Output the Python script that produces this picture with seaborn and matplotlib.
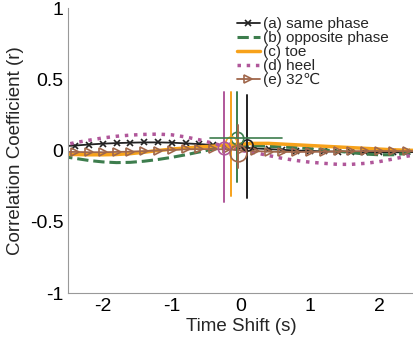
import numpy as np
import pandas as pd
import seaborn as sns
import matplotlib.pyplot as plt

# time shift (s)
lags = [-2.6, -2.4, -2.2, -2.0, -1.8, -1.6, -1.4, -1.2, -1.0, -0.8, -0.6, -0.4, -0.2,
        0.0, 0.2, 0.4, 0.6, 0.8, 1.0, 1.2, 1.4, 1.6, 1.8, 2.0, 2.2, 2.4, 2.6]

same_phase = [0.030, 0.035, 0.042, 0.048, 0.052, 0.055, 0.057, 0.057, 0.055, 0.050, 0.045, 0.038, 0.030,
              0.022, 0.015, 0.010, 0.005, 0.000, -0.003, -0.006, -0.008, -0.010, -0.012, -0.013, -0.013, -0.012, -0.010]
opposite_phase = [-0.040, -0.055, -0.070, -0.080, -0.085, -0.083, -0.075, -0.063, -0.048, -0.030, -0.010, 0.010, 0.025,
                  0.035, 0.035, 0.030, 0.025, 0.020, 0.013, 0.005, -0.005, -0.015, -0.025, -0.030, -0.030, -0.020, -0.010]
toe = [-0.025, -0.028, -0.030, -0.030, -0.028, -0.022, -0.012, 0.000, 0.010, 0.018, 0.025, 0.030, 0.038,
       0.045, 0.050, 0.050, 0.045, 0.040, 0.035, 0.030, 0.025, 0.020, 0.015, 0.010, 0.005, 0.002, 0.000]
heel = [0.035, 0.055, 0.072, 0.088, 0.100, 0.108, 0.113, 0.115, 0.110, 0.095, 0.075, 0.050, 0.025,
        0.000, -0.015, -0.035, -0.055, -0.070, -0.082, -0.090, -0.097, -0.097, -0.090, -0.078, -0.060, -0.040, -0.025]
temp32 = [-0.010, -0.010, -0.012, -0.012, -0.010, -0.008, -0.004, 0.000, 0.004, 0.008, 0.010, 0.010, 0.008,
          0.002, -0.004, -0.008, -0.010, -0.010, -0.010, -0.008, -0.006, -0.005, -0.004, -0.004, -0.004, -0.004, -0.004]

labels = ["(a) same phase", "(b) opposite phase", "(c) toe", "(d) heel", "(e) 32\u2103"]
colors = ["#222222", "#3d7d4d", "#f7a21b", "#b0579a", "#a0674b"]

# peak crosshairs: lag, r, vertical line top / bottom
peak_lag = [0.09, -0.05, -0.14, -0.25, -0.04]
peak_r = [0.04, 0.09, 0.06, 0.02, -0.02]
vline_top = [0.39, 0.41, 0.41, 0.41, 0.18]
vline_bot = [-0.33, -0.22, -0.32, -0.36, -0.12]
circle_size = [8, 9, 8, 9, 12]

xticks = [-2, -1, 0, 1, 2]
yticks = [-1, -0.5, 0, 0.5, 1]
ytick_labels = ["-1", "-0.5", "0", "0.5", "1"]

sns.set_style("white")
plt.rcParams["font.family"] = ["Liberation Sans", "DejaVu Sans"]

fig = plt.figure(figsize=(4.13, 3.48), dpi=100)
ax = fig.add_axes([0.165, 0.158, 0.84, 0.819])

df = pd.DataFrame({"lag": lags, labels[0]: same_phase, labels[1]: opposite_phase,
                   labels[2]: toe, labels[3]: heel, labels[4]: temp32})

line_styles = ["-", "--", "-", ":", "-"]
line_widths = [1.3, 2.2, 2.5, 2.5, 1.3]
markers = ["x", "", "", "", ">"]

for lab, col, ls, lw, mk in zip(labels, colors, line_styles, line_widths, markers):
    sns.lineplot(data=df, x="lag", y=lab, color=col, label=lab, ax=ax, linestyle=ls, linewidth=lw)
    ln = ax.lines[-1]
    if mk:
        ln.set_marker(mk)
        ln.set_markerfacecolor("none" if mk == ">" else col)
        ln.set_markeredgecolor(col)
        ln.set_markersize(6 if mk == ">" else 4.5)
        ln.set_markeredgewidth(1.2)

# peak crosshairs
for i, col in enumerate(colors):
    ax.plot([peak_lag[i], peak_lag[i]], [vline_bot[i], vline_top[i]], color=col, lw=1.4)
    ax.plot(peak_lag[i], peak_r[i], "o", markersize=circle_size[i], markerfacecolor="none",
            markeredgecolor=col, markeredgewidth=1.2)
ax.plot([-0.45, 0.6], [peak_r[1], peak_r[1]], color=colors[1], lw=1.2)

ax.set_xlim(-2.5, 2.52)
ax.set_ylim(-1, 1)
ax.set_xticks(xticks)
ax.set_xticklabels([str(t) for t in xticks])
ax.set_yticks(yticks)
ax.set_yticklabels(ytick_labels)
ax.tick_params(direction="in", length=3, labelsize=14, colors="#999999", labelcolor="black")
ax.set_xlabel("Time Shift (s)", fontsize=13.5, labelpad=2)
ax.set_ylabel("Correlation Coefficient (r)", fontsize=13.5, labelpad=4)
for s in ["top", "right"]:
    ax.spines[s].set_visible(False)
for s in ["left", "bottom"]:
    ax.spines[s].set_color("#999999")

ax.legend(loc="upper left", bbox_to_anchor=(0.455, 1.005), frameon=False, fontsize=11,
          handlelength=1.5, handletextpad=0.2, labelspacing=0.0, borderpad=0.2)

plt.savefig("out.png", dpi=100)
